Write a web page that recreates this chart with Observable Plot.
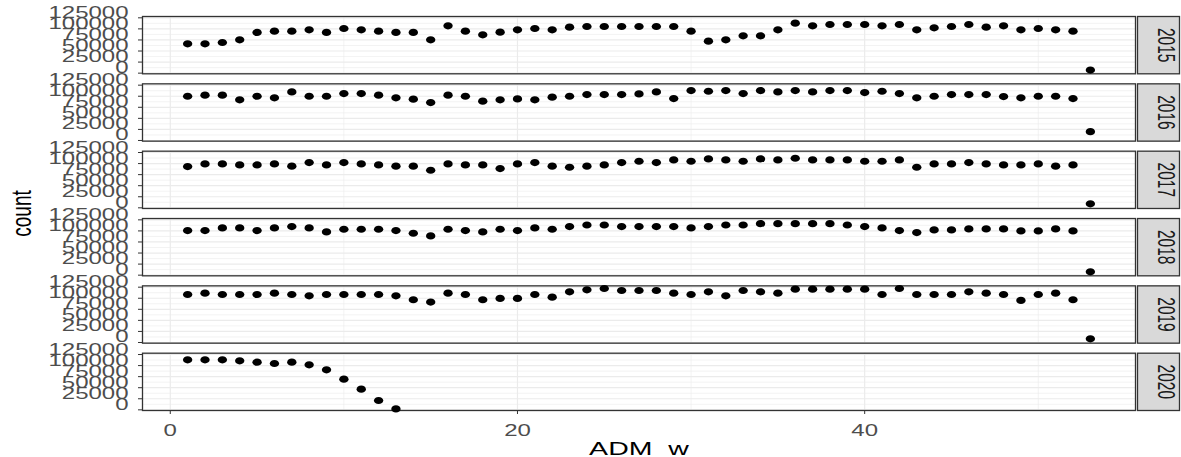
<!DOCTYPE html>
<html><head><meta charset="utf-8">
<script src="https://cdn.jsdelivr.net/npm/d3@7"></script>
<script src="https://cdn.jsdelivr.net/npm/@observablehq/plot@0.6"></script>
<style>
body{margin:0;background:#fff}
#chart svg{display:block}
</style>
</head><body><div id="chart"></div>
<script>
const years = [2015, 2016, 2017, 2018, 2019, 2020];
const weeks = [1,2,3,4,5,6,7,8,9,10,11,12,13,14,15,16,17,18,19,20,21,22,23,24,25,26,27,28,29,30,31,32,33,34,35,36,37,38,39,40,41,42,43,44,45,46,47,48,49,50,51,52,53];
const count2015 = [66300,66300,69300,75300,91900,94900,94900,97900,91900,100900,97900,94900,91900,91900,75300,106900,94900,86600,92600,97900,100900,97900,103900,
  105400,105400,105400,105400,105400,105400,94900,72300,75300,84300,84300,97900,113000,106900,109900,109900,109900,106900,109900,97900,102400,105400,109900,103900,106900,97900,100900,97900,94900,7000];
const count2016 = [100000,102300,102300,91800,100000,96300,109800,100000,100000,106100,106100,102300,96300,93300,85700,102300,100000,88800,91800,94000,91800,97800,100000,
  103800,103800,103800,105300,109800,94800,112800,111300,112800,106100,112800,109800,112800,109800,112800,112800,108300,111300,106100,96300,100000,103800,103800,103800,99300,96300,100000,100000,94800,20000];
const count2017 = [93200,99200,99200,97000,97000,99200,94000,102200,97000,102200,99200,97000,94000,94000,84900,99200,97000,97000,88700,99200,102200,94000,91700,
  94000,97000,102200,105200,102200,108200,105200,110500,108200,105200,110500,108200,112000,108200,108200,108200,105200,105200,108200,91700,99200,99200,102200,99200,97000,97000,99200,94000,97000,9000];
const count2018 = [100700,100700,106700,106700,100700,106700,109700,106700,97700,103700,103700,103700,100700,94700,88600,103700,100700,97700,103700,100700,106700,103700,109700,
  113400,113400,109700,109700,109700,109700,106700,109700,113400,113400,116400,116400,116400,116400,116400,113400,109700,106700,100700,96200,102200,102200,104400,104400,104400,99900,99900,104400,99900,7500];
const count2019 = [108500,111500,108500,108500,108500,111500,108500,105500,108500,108500,108500,108500,105500,96600,91300,111500,108500,96600,99600,99600,108500,102500,114500,
  119000,122000,117500,117500,117500,111500,108500,114500,105500,117500,114500,111500,120500,120500,120500,120500,120500,108500,122000,108500,108500,108500,114500,111500,108500,95100,108500,111500,96600,8200];
const count2020 = [113000,113000,113000,110700,107700,104700,107700,101700,90400,69300,46700,21100,2000];
const counts = [count2015, count2016, count2017, count2018, count2019, count2020];

const xTicks = [0, 20, 40];
const xMinor = [10, 30, 50];
const yTicks = [0, 25000, 50000, 75000, 100000, 125000];
const yMinor = [12500, 37500, 62500, 87500, 112500];

const data = [];
years.forEach((yr, i) => counts[i].forEach((c, j) => data.push({year: yr, week: weeks[j], count: c})));

// slightly wide ellipse symbol (the reference is horizontally stretched)
const ellipse = {
  draw(ctx, size) {
    const ry = Math.sqrt(size / Math.PI), rx = ry * 1.3, k = 0.5523;
    ctx.moveTo(rx, 0);
    ctx.bezierCurveTo(rx, k * ry, k * rx, ry, 0, ry);
    ctx.bezierCurveTo(-k * rx, ry, -rx, k * ry, -rx, 0);
    ctx.bezierCurveTo(-rx, -k * ry, -k * rx, -ry, 0, -ry);
    ctx.bezierCurveTo(k * rx, -ry, rx, -k * ry, rx, 0);
    ctx.closePath();
  }
};

const chart = Plot.plot({
  width: 1181,
  height: 457,
  marginLeft: 142,
  marginRight: 46,
  marginTop: 16,
  marginBottom: 47,
  style: {fontFamily: "'Liberation Sans', Arial, sans-serif", fontSize: "16px", color: "#333333", background: "white", overflow: "visible"},
  x: {domain: [-1.6, 55.6], ticks: xTicks, tickSize: 4, tickPadding: 24, label: "ADM_w", labelAnchor: "center", labelOffset: 44, labelArrow: "none"},
  y: {domain: [-1500, 128000], ticks: yTicks, tickFormat: d => String(d), tickSize: 4, tickPadding: 10, label: "count", labelAnchor: "center", labelOffset: 112, labelArrow: "none"},
  fy: {domain: years, axis: null, paddingInner: 0.149, paddingOuter: 0, round: false, label: null},
  marks: [
    Plot.ruleY(yMinor, {stroke: "#EBEBEB", strokeWidth: 0.6}),
    Plot.ruleX(xMinor, {stroke: "#EBEBEB", strokeWidth: 0.6}),
    Plot.ruleY(yTicks, {stroke: "#EBEBEB", strokeWidth: 1.2}),
    Plot.ruleX(xTicks, {stroke: "#EBEBEB", strokeWidth: 1.2}),
    Plot.frame({stroke: "#333333", strokeWidth: 1.3}),
    Plot.frame({insetLeft: 995, insetRight: -44, fill: "#D9D9D9", stroke: "#333333", strokeWidth: 1.3}),
    Plot.text(data, Plot.selectFirst({fy: "year", text: d => String(d.year), frameAnchor: "right", textAnchor: "middle", dx: 22.5, rotate: 90, fill: "#1A1A1A", fontSize: 15.5})),
    Plot.dot(data, {x: "week", y: "count", fy: "year", r: 3.6, symbol: ellipse, fill: "black", stroke: "none"})
  ]
});
document.getElementById("chart").appendChild(chart);

const svg = d3.select(chart);
svg.selectAll("[aria-label$='tick label'] text").attr("fill", "#4D4D4D");
svg.selectAll("[aria-label$='axis label'] text").attr("fill", "#000").style("font-size", "19px");
const xTickTexts = new Set(svg.selectAll("[aria-label='x-axis tick label'] text").nodes());

// reproduce the reference's horizontal stretch of all glyphs
svg.selectAll("text").each(function() {
  const t = this;
  const x = t.getAttribute("x"), y = t.getAttribute("y");
  let tr = t.getAttribute("transform") || "";
  const rotated = /rotate\(\s*-?9/.test(tr);
  if (xTickTexts.has(t)) tr = "translate(0,-3) " + tr;
  if (x != null || y != null) {
    tr += ` translate(${+x || 0},${+y || 0})`;
    t.removeAttribute("x"); t.removeAttribute("y");
  }
  t.setAttribute("transform", tr + (rotated ? " scale(1,1.5)" : " scale(1.5,1)"));
});
</script></body></html>
